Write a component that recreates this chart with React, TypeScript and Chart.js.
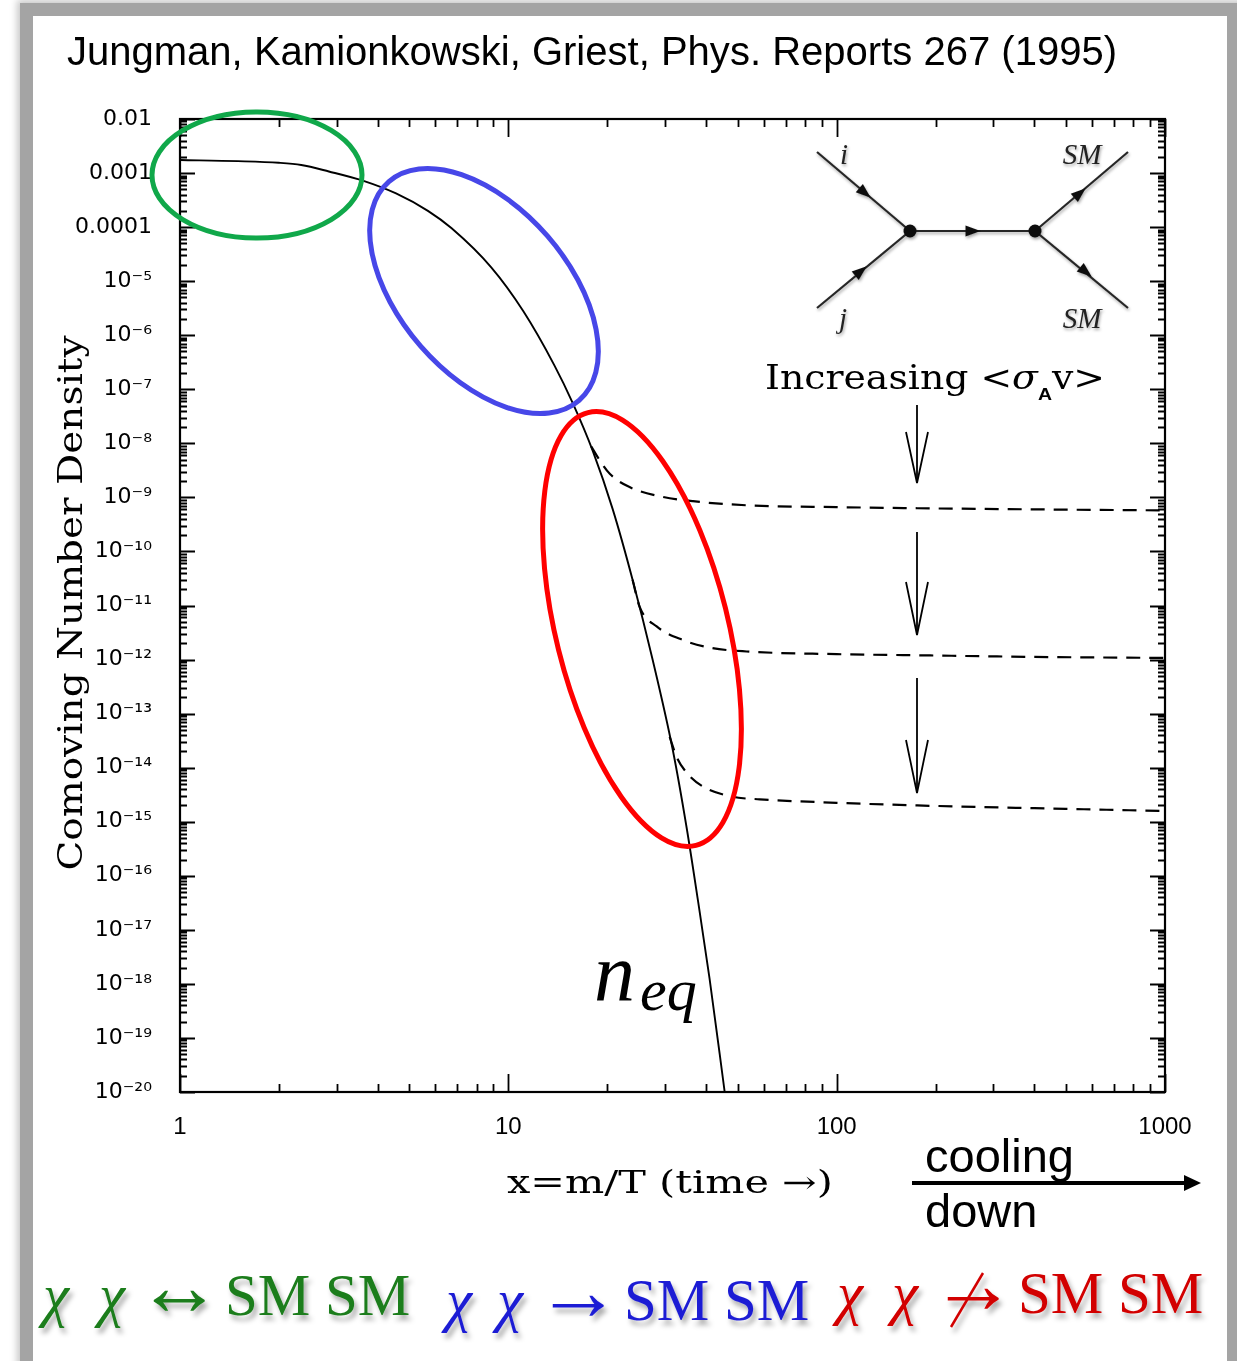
import React, { useEffect, useRef } from 'react';
import { Chart, registerables } from 'chart.js';

Chart.register(...registerables);

// ---------- values ----------
// equilibrium comoving number density n_eq (solid)
const neqX = [1, 1.5, 2.0, 2.34, 2.84, 3.64, 4.55, 5.69, 6.72, 8.87, 11.1, 13.8, 15.7, 18.1, 20.8, 23.9, 27.5, 31.7, 34.9, 37.8, 41.0, 45.6];
const neqY = [1.74e-3, 1.66e-3, 1.55e-3, 1.41e-3, 1.07e-3, 7.1e-4, 4.2e-4, 2.0e-4, 9.5e-5, 1.8e-5, 2.8e-6, 2.8e-7, 5.6e-8, 7.1e-9, 6.0e-10, 3.0e-11, 1.0e-12, 2.1e-14, 7.9e-16, 3.5e-17, 1.26e-18, 1.0e-20];

// relic abundance curves (dashed), increasing <sigma_A v> downward
const relic1X = [17.9, 19.0, 20.4, 23.4, 28.9, 36.5, 54.3, 100, 176, 400, 1000];
const relic1Y = [8.7e-9, 4.8e-9, 2.7e-9, 1.55e-9, 1.05e-9, 8.5e-10, 7.1e-10, 6.6e-10, 6.3e-10, 6.0e-10, 5.75e-10];

const relic2X = [23.9, 25.1, 28.3, 34.0, 41.0, 53.2, 100, 176, 400, 1000];
const relic2Y = [3.0e-11, 9.5e-12, 4.1e-12, 2.3e-12, 1.66e-12, 1.41e-12, 1.26e-12, 1.2e-12, 1.12e-12, 1.07e-12];

const relic3X = [31.0, 32.6, 34.9, 39.1, 48.2, 58.3, 100, 176, 400, 1000];
const relic3Y = [3.7e-14, 1.55e-14, 8.1e-15, 4.5e-15, 2.9e-15, 2.6e-15, 2.24e-15, 2.0e-15, 1.78e-15, 1.58e-15];

// axes
const yDecades = [-20, -19, -18, -17, -16, -15, -14, -13, -12, -11, -10, -9, -8, -7, -6, -5, -4, -3, -2];
const yTickLabels = ['10⁻²⁰', '10⁻¹⁹', '10⁻¹⁸', '10⁻¹⁷', '10⁻¹⁶', '10⁻¹⁵', '10⁻¹⁴', '10⁻¹³', '10⁻¹²', '10⁻¹¹', '10⁻¹⁰', '10⁻⁹', '10⁻⁸', '10⁻⁷', '10⁻⁶', '10⁻⁵', '0.0001', '0.001', '0.01'];
const xDecades = [0, 1, 2, 3];
const xTickLabels = ['1', '10', '100', '1000'];
const minorSteps = [2, 3, 4, 5, 6, 7, 8, 9];

const titleText = 'Jungman, Kamionkowski, Griest, Phys. Reports 267 (1995)';
const yTitle = 'Comoving Number Density';
const xTitle = 'x=m/T (time →)';

function buildLogTicks(decades: number[], labels: string[]) {
  const ticks: any[] = [];
  decades.forEach((e, i) => {
    ticks.push({ value: Number(`1e${e}`), major: true, lbl: labels[i] });
    if (i < decades.length - 1) {
      minorSteps.forEach((k) => ticks.push({ value: Number(`${k}e${e}`), major: false, lbl: '' }));
    }
  });
  return ticks;
}

const toPoints = (xs: number[], ys: number[]) => xs.map((x, i) => ({ x, y: ys[i] }));

const frameTicksPlugin = {
  id: 'frameTicks',
  afterDatasetsDraw(chart: any) {
    const { ctx, chartArea: a, scales } = chart;
    const xs = scales.x;
    const ys = scales.y;
    ctx.save();
    ctx.strokeStyle = '#000';
    ctx.lineWidth = 1.8;
    ctx.beginPath();
    for (const t of ys.ticks) {
      const y = Math.round(ys.getPixelForValue(t.value)) + 0.5;
      const len = t.major ? 15 : 7;
      ctx.moveTo(a.left, y);
      ctx.lineTo(a.left + len, y);
      ctx.moveTo(a.right, y);
      ctx.lineTo(a.right - len, y);
    }
    for (const t of xs.ticks) {
      const x = Math.round(xs.getPixelForValue(t.value)) + 0.5;
      const len = t.major ? 18 : 8;
      ctx.moveTo(x, a.bottom);
      ctx.lineTo(x, a.bottom - len);
      ctx.moveTo(x, a.top);
      ctx.lineTo(x, a.top + len);
    }
    ctx.stroke();
    ctx.lineWidth = 2.2;
    ctx.strokeRect(a.left, a.top, a.right - a.left, a.bottom - a.top);
    ctx.restore();
  },
};

function tri(cx: number, cy: number, dx: number, dy: number, len = 15, hw = 5.5) {
  const n = Math.hypot(dx, dy);
  const ux = dx / n;
  const uy = dy / n;
  const tx = cx + (ux * len) / 2;
  const ty = cy + (uy * len) / 2;
  const bx = cx - (ux * len) / 2;
  const by = cy - (uy * len) / 2;
  return `${tx},${ty} ${bx - uy * hw},${by + ux * hw} ${bx + uy * hw},${by - ux * hw}`;
}

const downArrows = [
  [405, 432, 483],
  [532, 582, 635],
  [678, 740, 793],
];

const equations = [
  { color: '#1b7d1b', y: 1315, chi: [43, 99], arrow: '↔', ax: 136, sm: 225, slash: false },
  { color: '#1d1dd4', y: 1320, chi: [446, 497], arrow: '→', ax: 535, sm: 624, slash: false },
  { color: '#d20000', y: 1313, chi: [837, 892], arrow: '→', ax: 930, sm: 1018, slash: true },
];

export default function App() {
  const canvasRef = useRef<HTMLCanvasElement | null>(null);

  useEffect(() => {
    document.body.style.margin = '0';
    const canvas = canvasRef.current;
    if (!canvas) return;
    const chart = new Chart(canvas, {
      type: 'scatter',
      data: {
        datasets: [
          {
            label: 'n_eq',
            data: toPoints(neqX, neqY),
            showLine: true,
            borderColor: '#000',
            borderWidth: 1.9,
            pointRadius: 0,
            cubicInterpolationMode: 'monotone',
          },
          {
            label: 'relic 1',
            data: toPoints(relic1X, relic1Y),
            showLine: true,
            borderColor: '#000',
            borderWidth: 2.2,
            borderDash: [14, 9],
            pointRadius: 0,
            cubicInterpolationMode: 'monotone',
          },
          {
            label: 'relic 2',
            data: toPoints(relic2X, relic2Y),
            showLine: true,
            borderColor: '#000',
            borderWidth: 2.2,
            borderDash: [14, 9],
            pointRadius: 0,
            cubicInterpolationMode: 'monotone',
          },
          {
            label: 'relic 3',
            data: toPoints(relic3X, relic3Y),
            showLine: true,
            borderColor: '#000',
            borderWidth: 2.2,
            borderDash: [14, 9],
            pointRadius: 0,
            cubicInterpolationMode: 'monotone',
          },
        ],
      } as any,
      options: {
        responsive: false,
        animation: false,
        events: [],
        layout: { padding: { left: 0, top: 119, right: 72, bottom: 209 } },
        plugins: {
          legend: { display: false },
          tooltip: { enabled: false },
          title: { display: false },
        },
        scales: {
          x: {
            type: 'logarithmic',
            position: 'bottom',
            min: 1,
            max: 1000,
            grid: { display: false, drawTicks: false },
            border: { display: false },
            afterBuildTicks: (s: any) => {
              s.ticks = buildLogTicks(xDecades, xTickLabels);
            },
            afterFit: (s: any) => {
              s.height = 60;
            },
            ticks: {
              autoSkip: false,
              maxRotation: 0,
              padding: 21,
              color: '#000',
              font: { family: "'Liberation Sans', Arial, sans-serif", size: 24 },
              callback: (_v: any, i: number, t: any[]) => (t[i] && t[i].lbl) || '',
            },
          },
          y: {
            type: 'logarithmic',
            position: 'left',
            min: 1e-20,
            max: 1e-2,
            grid: { display: false, drawTicks: false },
            border: { display: false },
            afterBuildTicks: (s: any) => {
              s.ticks = buildLogTicks(yDecades, yTickLabels);
            },
            afterFit: (s: any) => {
              s.width = 180;
            },
            ticks: {
              autoSkip: false,
              padding: 28,
              color: '#000',
              font: { family: "'DejaVu Sans', sans-serif", size: 22 },
              callback: (_v: any, i: number, t: any[]) => (t[i] && t[i].lbl) || '',
            },
          },
        },
      } as any,
      plugins: [frameTicksPlugin],
    });
    return () => chart.destroy();
  }, []);

  const serif = "'DejaVu Serif', serif";
  const times = "'Liberation Serif', 'Times New Roman', serif";
  const sans = "'Liberation Sans', Arial, sans-serif";

  return (
    <div style={{ position: 'absolute', left: 0, top: 0, width: 1237, height: 1361, overflow: 'hidden', background: '#fff' }}>
      <div
        style={{
          position: 'absolute',
          left: 20,
          top: 3,
          right: -30,
          bottom: -30,
          background: '#a4a4a4',
          boxShadow: '0 0 7px 3px rgba(0,0,0,0.22)',
        }}
      />
      <div style={{ position: 'absolute', left: 33, top: 16, width: 1194, bottom: -30, background: '#fff' }} />
      <canvas
        ref={canvasRef}
        width={1237}
        height={1361}
        style={{ position: 'absolute', left: 0, top: 0, width: 1237, height: 1361, display: 'block' }}
      />
      <svg
        width={1237}
        height={1361}
        style={{ position: 'absolute', left: 0, top: 0, pointerEvents: 'none' }}
      >
        <defs>
          <filter id="txtShadow" x="-10%" y="-40%" width="130%" height="190%">
            <feDropShadow dx="3" dy="5" stdDeviation="2.6" floodColor="#000" floodOpacity="0.33" />
          </filter>
          <filter id="soft" x="-20%" y="-20%" width="150%" height="150%">
            <feDropShadow dx="1" dy="2" stdDeviation="1.8" floodColor="#000" floodOpacity="0.35" />
          </filter>
        </defs>

        {/* title */}
        <text x={67} y={65} fontFamily={sans} fontSize={40} fill="#000" textLength={1050} lengthAdjust="spacing">
          {titleText}
        </text>

        {/* axis titles */}
        <text
          transform="translate(82 603) rotate(-90)"
          textAnchor="middle"
          fontFamily={serif}
          fontSize={33}
          fill="#000"
          textLength={535}
          lengthAdjust="spacingAndGlyphs"
        >
          {yTitle}
        </text>
        <text x={507} y={1193} fontFamily={serif} fontSize={31} fill="#000" textLength={326} lengthAdjust="spacingAndGlyphs">
          {xTitle}
        </text>

        {/* ellipses */}
        <ellipse cx={257} cy={175} rx={105} ry={63} fill="none" stroke="#10a84a" strokeWidth={5} />
        <ellipse cx={484} cy={291} rx={145} ry={84} transform="rotate(49 484 291)" fill="none" stroke="#4747e8" strokeWidth={5} />
        <ellipse cx={642} cy={629} rx={223} ry={86} transform="rotate(76 642 629)" fill="none" stroke="#ff0000" strokeWidth={5} />

        {/* Feynman diagram */}
        <g filter="url(#soft)">
          <g stroke="#262626" strokeWidth={2.2} fill="none">
            <line x1={817} y1={152} x2={910} y2={231} />
            <line x1={817} y1={308} x2={910} y2={231} />
            <line x1={910} y1={231} x2={1035} y2={231} />
            <line x1={1035} y1={231} x2={1128} y2={152} />
            <line x1={1035} y1={231} x2={1128} y2={308} />
          </g>
          <g fill="#111">
            <circle cx={910} cy={231} r={6.5} />
            <circle cx={1035} cy={231} r={6.5} />
            <polygon points={tri(865, 193, 93, 79)} />
            <polygon points={tri(861, 271, 93, -77)} />
            <polygon points={tri(973, 231, 1, 0)} />
            <polygon points={tri(1080, 193, 93, -79)} />
            <polygon points={tri(1086, 272, 93, 77)} />
          </g>
          <g fontFamily={times} fontStyle="italic" fontSize={29} fill="#222">
            <text x={840} y={164}>i</text>
            <text x={839} y={328}>j</text>
            <text x={1082} y={164} textAnchor="middle">SM</text>
            <text x={1082} y={328} textAnchor="middle">SM</text>
          </g>
        </g>

        {/* Increasing <sigma_A v> */}
        <text x={765} y={389} fontFamily={serif} fontSize={33} fill="#000" textLength={340} lengthAdjust="spacingAndGlyphs">
          {'Increasing <'}
          <tspan fontStyle="italic">σ</tspan>
          <tspan fontFamily={sans} fontWeight="bold" fontSize={17} dy={11}>A</tspan>
          <tspan dy={-11}>{'v>'}</tspan>
        </text>

        {/* down arrows */}
        <g stroke="#000" strokeWidth={1.8} fill="none">
          {downArrows.map(([y0, yh, yt], i) => (
            <g key={i}>
              <line x1={917} y1={y0} x2={917} y2={yt} />
              <polyline points={`906,${yh} 917,${yt} 928,${yh}`} />
            </g>
          ))}
        </g>

        {/* n_eq label */}
        <text x={594} y={1000} fontFamily={times} fontStyle="italic" fontSize={82} fill="#000">
          n
          <tspan fontSize={60} dx={5} dy={10}>eq</tspan>
        </text>

        {/* cooling down */}
        <text x={925} y={1172} fontFamily={sans} fontSize={47} fill="#000">cooling</text>
        <text x={925} y={1227} fontFamily={sans} fontSize={47} fill="#000">down</text>
        <line x1={912} y1={1183} x2={1188} y2={1183} stroke="#000" strokeWidth={4} />
        <polygon points="1201,1183 1184,1175 1184,1191" fill="#000" />

        {/* processes */}
        {equations.map((e, i) => (
          <g key={i} filter="url(#txtShadow)" fill={e.color} fontFamily={times} fontSize={59}>
            <text x={e.chi[0]} y={e.y} fontStyle="italic">χ</text>
            <text x={e.chi[1]} y={e.y} fontStyle="italic">χ</text>
            <text x={e.ax} y={e.y} fontSize={86}>{e.arrow}</text>
            <text x={e.sm} y={e.y}>SM SM</text>
            {e.slash && <line x1={e.ax + 21} y1={e.y + 14} x2={e.ax + 53} y2={e.y - 40} stroke={e.color} strokeWidth={2.5} />}
          </g>
        ))}
      </svg>
    </div>
  );
}
